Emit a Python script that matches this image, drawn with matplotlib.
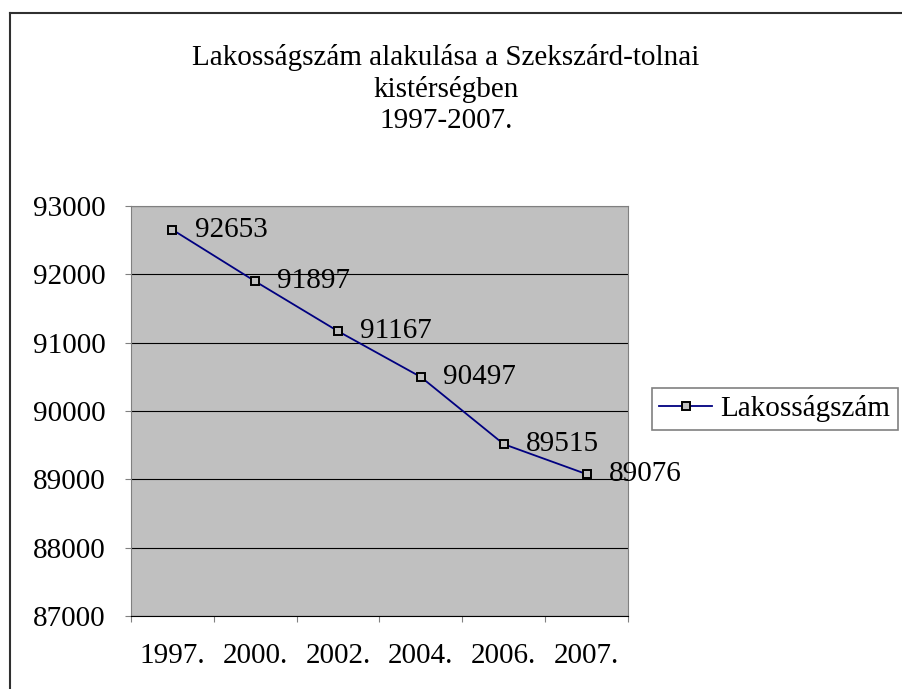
import matplotlib
matplotlib.use("Agg")
import matplotlib.pyplot as plt
from matplotlib.lines import Line2D

years = ["1997.", "2000.", "2002.", "2004.", "2006.", "2007."]
values = [92653, 91897, 91167, 90497, 89515, 89076]
yticks = [87000, 88000, 89000, 90000, 91000, 92000, 93000]

plt.rcParams['font.family'] = ['Liberation Serif', 'DejaVu Serif']
FS = 21

fig = plt.figure(figsize=(9.03, 6.89), dpi=100)
W, H = 903, 689
ax = fig.add_axes([131 / W, 1 - 616 / H, (628 - 131) / W, (616 - 206) / H])
ax.set_facecolor('#c0c0c0')

x = list(range(len(years)))
ax.plot(x, values, color='#000080', lw=1.3, marker='s', markersize=5.5,
        markerfacecolor='#c0c0c0', markeredgecolor='black', markeredgewidth=1.4,
        zorder=3)
for xi, v in zip(x, values):
    ax.annotate(str(v), (xi, v), xytext=(16, 0), textcoords='offset points',
                ha='left', va='center', fontsize=FS)

ax.set_xlim(-0.5, len(years) - 0.5)
ax.set_ylim(87000, 93000)
ax.set_yticks(yticks)
ax.set_yticklabels([str(t) for t in yticks], fontsize=FS)
ax.yaxis.grid(True, color='black', lw=0.8)
ax.set_axisbelow(True)

ax.set_xticks([i - 0.5 for i in range(len(years) + 1)])
ax.set_xticklabels([])
ax.set_xticks(x, minor=True)
ax.set_xticklabels(years, minor=True, fontsize=FS)
ax.tick_params(axis='x', which='minor', length=0, pad=19.5)
ax.tick_params(axis='x', which='major', length=4.5, color='#808080')
ax.tick_params(axis='y', length=4.5, color='#808080', pad=14)
for side in ['top', 'right']:
    ax.spines[side].set_color('#808080')
ax.spines['left'].set_color('#808080')
ax.spines['bottom'].set_color('black')

fig.text(446 / W, 1 - 89 / H, "Lakosságszám alakulása a Szekszárd-tolnai\nkistérségben\n1997-2007.",
         ha='center', va='center', fontsize=FS, linespacing=1.23)

handle = Line2D([], [], color='#000080', lw=1.3, marker='s', markersize=5.5,
                markerfacecolor='#c0c0c0', markeredgecolor='black', markeredgewidth=1.4)
leg = fig.legend([handle], ["Lakosságszám"], loc='center left',
                 bbox_to_anchor=(652 / W, 1 - 409 / H), fontsize=FS,
                 frameon=True, fancybox=False, handlelength=1.8, borderpad=0.25,
                 handletextpad=0.3, borderaxespad=0)
leg.get_frame().set_edgecolor('#606060')
leg.get_frame().set_linewidth(1.2)

fig.add_artist(Line2D([10 / W, 10 / W], [0, 1 - 13 / H], transform=fig.transFigure,
                      color='#303030', lw=1.5))
fig.add_artist(Line2D([10 / W, 1], [1 - 13 / H, 1 - 13 / H], transform=fig.transFigure,
                      color='#303030', lw=1.5))

fig.savefig("out.png", dpi=100)
